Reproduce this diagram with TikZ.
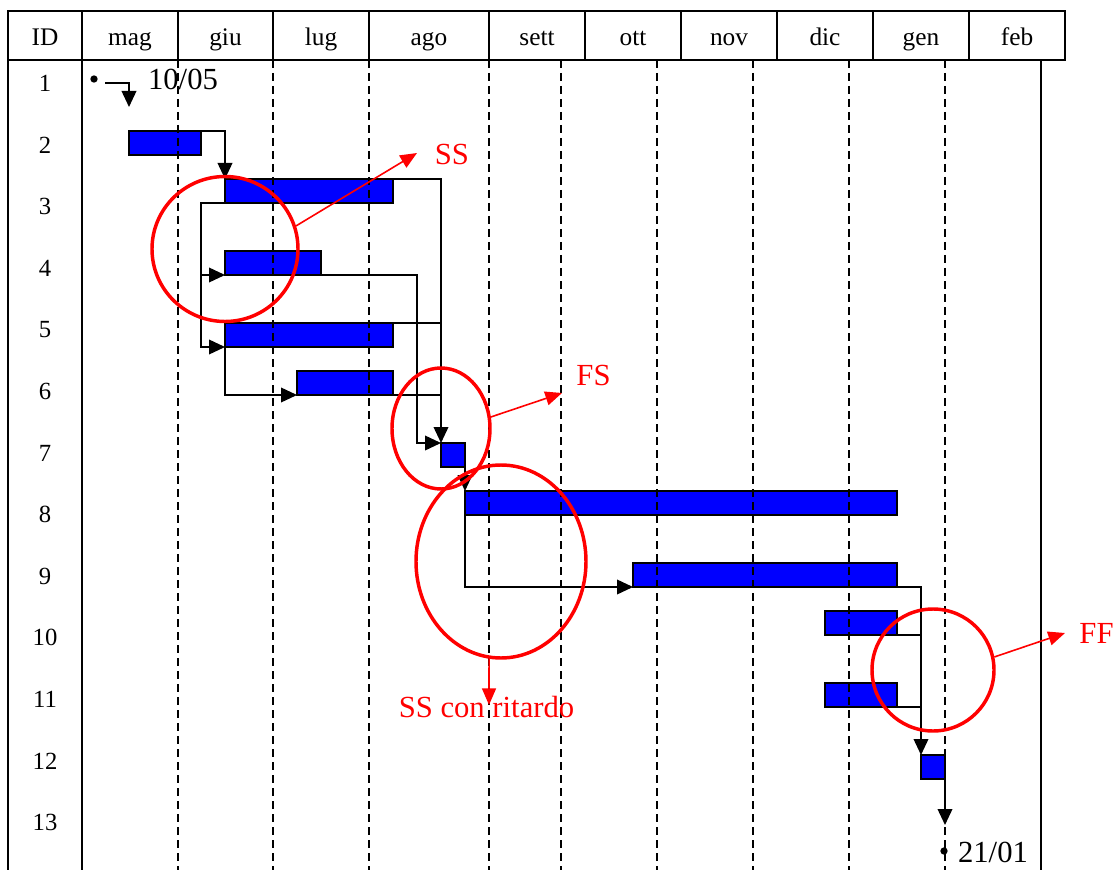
\documentclass[tikz,border=0pt]{standalone}
\usepackage{fontspec}
\setmainfont{Liberation Serif}
\usetikzlibrary{arrows.meta,shapes.geometric}
\definecolor{barblue}{RGB}{0,0,255}
\definecolor{annred}{RGB}{255,0,0}
\newcommand\ganttbar[5]{\node[bar, minimum width={(#4-#2)*0.75pt}, minimum height={(#5-#3)*0.75pt}] (#1) at ({(#2+#4)/2},{(#3+#5)/2}) {};}
\begin{document}
\begin{tikzpicture}[x=0.75pt,y=-0.75pt,
  grid/.style={line width=1.5pt},
  vdash/.style={line width=1.4pt, dash pattern=on 6pt off 3.75pt},
  bar/.style={rectangle, draw=black, fill=barblue, line width=1.4pt, inner sep=0pt, outer sep=0pt},
  conn/.style={line width=1.2pt},
  arr/.style={conn, -{Triangle[length=12pt,width=11pt]}},
  ring/.style={ellipse, draw=annred, line width=2.6pt, inner sep=0pt},
  rarr/.style={draw=annred, line width=1.2pt, -{Triangle[length=12.5pt,width=10.5pt]}},
  hdr/.style={font=\fontsize{19}{22}\selectfont, anchor=base, inner sep=0pt},
  rowlab/.style={font=\fontsize{18.5}{22}\selectfont, anchor=base, inner sep=0pt},
  ann/.style={font=\fontsize{23}{27}\selectfont, text=annred, anchor=base, inner sep=0pt},
  datelab/.style={font=\fontsize{23}{27}\selectfont, anchor=base, inner sep=0pt},
  dot/.style={circle, fill=black, inner sep=0pt, minimum size=5.5pt},
]
\useasboundingbox (0,0) rectangle (1118,870);

% header
\draw[grid] (8,11) rectangle (1065,60);
\foreach \x in {82,178,273,369,489,585,681,777,873,969}
  \draw[grid] (\x,11) -- (\x,60);
\foreach \x/\t/\n in {45/ID/h0,130/mag/h1,225.5/giu/h2,321/lug/h3,429/ago/h4,537/sett/h5,633/ott/h6,729/nov/h7,825/dic/h8,921/gen/h9,1017/feb/h10}
  \node[hdr] (\n) at (\x,45.5) {\t};

% body frame
\foreach \x in {8,82,1041}
  \draw[grid] (\x,60) -- (\x,870);

% row labels
\foreach \i in {1,...,13}
  \node[rowlab] (r\i) at (45,{91.5+(\i-1)*61.6}) {\i};

% bars
\ganttbar{b2}{129}{131}{201}{155}
\ganttbar{b3}{225}{179}{393}{203}
\ganttbar{b4}{225}{251}{321}{275}
\ganttbar{b5}{225}{323}{393}{347}
\ganttbar{b6}{297}{371}{393}{395}
\ganttbar{b7}{441}{443}{465}{467}
\ganttbar{b8}{465}{491}{897}{515}
\ganttbar{b9}{633}{563}{897}{587}
\ganttbar{b10}{825}{611}{897}{635}
\ganttbar{b11}{825}{683}{897}{707}
\ganttbar{b12}{921}{755}{945}{779}

% dashed month lines
\foreach \x in {178,273,369,489,561,657,753,849,945}
  \draw[vdash] (\x,60) -- (\x,870);

% start milestone
\node[dot] (d1) at (94,79) {};
\coordinate (s1) at (105,83);
\coordinate (t1) at (129,107);
\draw[arr] (s1) -| (t1);
\node[datelab] (l1) at (183,90) {10/05};

% connectors
\draw[arr] (b2.north east) -| (b3.north west);
\draw[arr] (b3.south west) -- ++(-24,0) |- (b4.south west);
\draw[arr] (b3.south west) -- ++(-24,0) |- (b5.south west);
\draw[arr] (b3.north east) -| (b7.north west);
\draw[conn] (b5.north east) -- (b5.north east -| b7.north west);
\draw[conn] (b6.south east) -- (b6.south east -| b7.north west);
\draw[arr] (b4.south east) -- ++(96,0) |- (b7.north west);
\draw[arr] (b5.south west) |- (b6.south west);
\draw[arr] (b7.south east) -- (b8.north west);
\draw[arr] (b8.south west) |- (b9.south west);
\draw[arr] (b9.south east) -| (b12.north west);
\draw[conn] (b10.south east) -- (b10.south east -| b12.north west);
\draw[conn] (b11.south east) -- (b11.south east -| b12.north west);

% end milestone
\draw[arr] (b12.south east) -- ++(0,46) coordinate (t12);
\node[dot] (d2) at (944,851) {};
\node[datelab] (l2) at (993,862) {21/01};

% red annotations
\node[ring, minimum width=109.5pt, minimum height=108.75pt] (cSS) at (225,249) {};
\node[ring, minimum width=73.5pt, minimum height=90.75pt] (cFS) at (441,428.5) {};
\node[ring, minimum width=127.5pt, minimum height=144.75pt] (cSSr) at (501,561.5) {};
\node[ring, minimum width=91.5pt, minimum height=91.5pt] (cFF) at (933,670) {};

\coordinate (tSS) at (417,153);
\coordinate (tFS) at (562,393);
\coordinate (tSSr) at (489,705);
\coordinate (tFF) at (1065,633);
\draw[rarr] (cSS.18) -- (tSS);
\draw[rarr] (cFS.13) -- (tFS);
\draw[rarr] (cSSr.263) -- (tSSr);
\draw[rarr] (cFF.12) -- (tFF);

\node[ann] (aSS) at (452,165) {SS};
\node[ann] (aFS) at (593.5,385) {FS};
\node[ann] (aSSr) at (486.5,717) {SS con ritardo};
\node[ann] (aFF) at (1096.5,643) {FF};
\end{tikzpicture}
\end{document}
